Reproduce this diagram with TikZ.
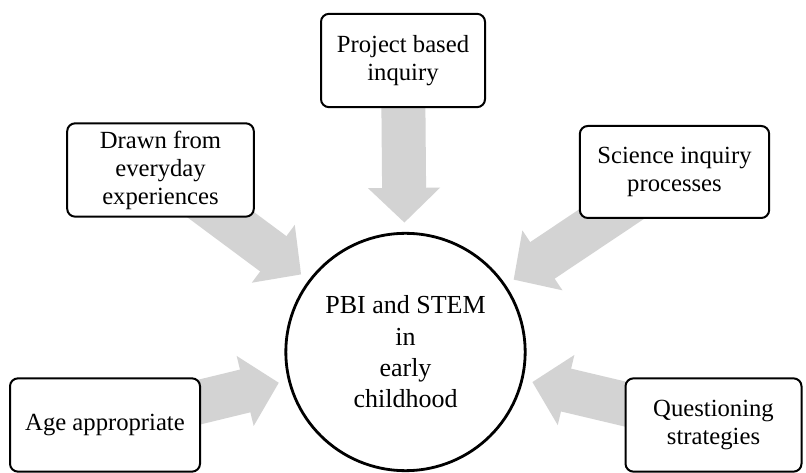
\documentclass[tikz,border=0pt]{standalone}
\usepackage{fontspec}
\setmainfont{Liberation Serif}
\usetikzlibrary{arrows.meta,backgrounds,shapes.geometric}
\definecolor{arrowgray}{RGB}{211,211,211}
\tikzset{
  topic/.style={draw, rounded corners=6pt, line width=1.5pt, fill=white, align=center, minimum height=70pt, inner sep=2pt, font=\fontsize{18.5}{21}\selectfont},
  bigarrow/.style={draw=arrowgray, line width=33pt, -{Triangle[width=52.5pt,length=26pt]}, shorten >=7pt},
}
\begin{document}
\begin{tikzpicture}[x=0.75pt,y=-0.75pt]
\useasboundingbox (0,0) rectangle (806,473);
\node (hub) at (405.5,352) [ellipse, draw, line width=2.1pt, minimum width=170pt, minimum height=178pt, align=center, font=\fontsize{19.5}{23.5}\selectfont] {PBI and STEM\\in\\early\\childhood};
\node (project) at (403,60.5) [topic, minimum width=123pt] {Project based\\inquiry};
\node (drawn) at (160.5,170) [topic, minimum width=140pt] {Drawn from\\everyday\\experiences};
\node (science) at (674.5,172) [topic, minimum width=142pt, minimum height=69pt] {Science inquiry\\processes};
\node (age) at (105,425) [topic, minimum width=142.5pt] {Age appropriate};
\node (question) at (713.5,425) [topic, minimum width=132pt] {Questioning\\strategies};
\begin{scope}[on background layer]
\draw [bigarrow] (project.center) -- (hub);
\draw [bigarrow] (drawn.center) -- (hub);
\draw [bigarrow] (science.center) -- (hub);
\draw [bigarrow] (age.center) -- (hub);
\draw [bigarrow] (question.center) -- (hub);
\end{scope}
\end{tikzpicture}
\end{document}
